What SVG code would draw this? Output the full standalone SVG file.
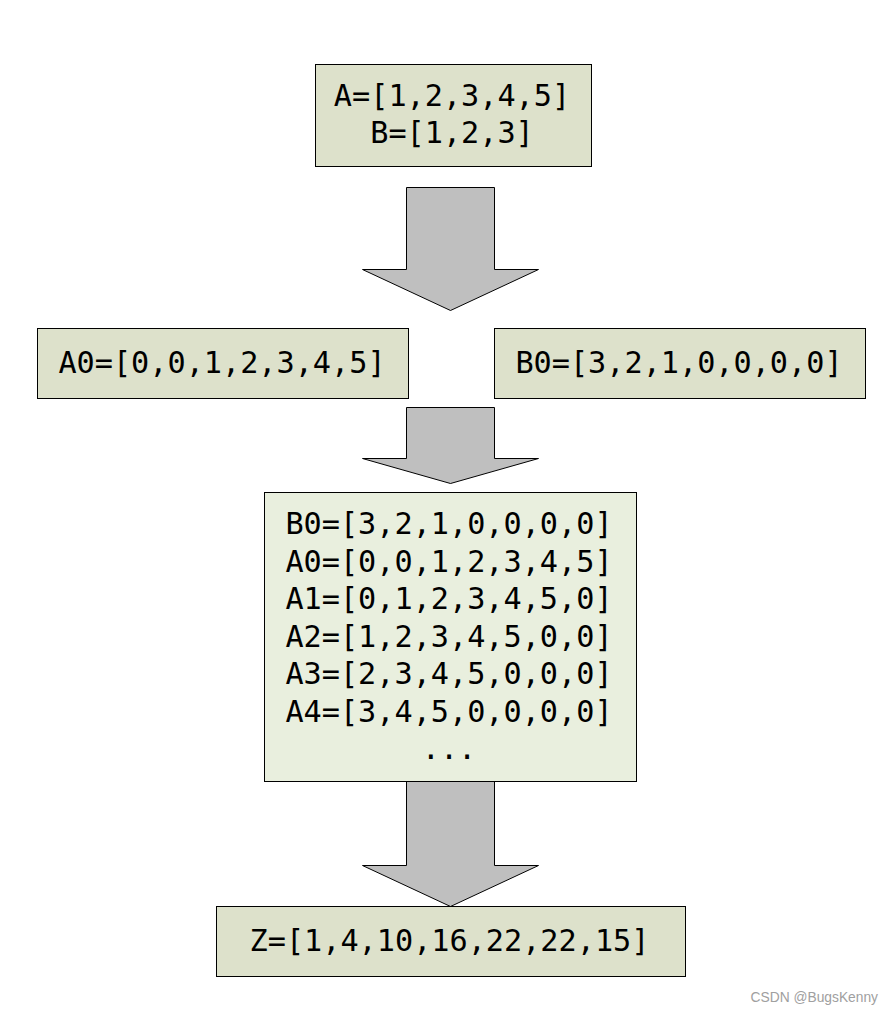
<svg xmlns="http://www.w3.org/2000/svg" width="894" height="1014" viewBox="0 0 894 1014">
<style>
.box{fill:#dde1cb;stroke:#000;stroke-width:1}
.box2{fill:#e9efde;stroke:#000;stroke-width:1}
.arr{fill:#bfbfbf;stroke:#000;stroke-width:1;stroke-linejoin:miter}
.t{font-family:"DejaVu Sans Mono",monospace;font-size:30.2px;fill:#000;text-anchor:middle}
.wm{font-family:"Liberation Sans",Arial,sans-serif;font-size:13.8px;fill:#a0a0a0;text-anchor:end}
</style>
<rect width="894" height="1014" fill="#fff"/>
<g id="connectors">
<polygon class="arr" points="406.5,187.5 494.5,187.5 494.5,269.5 538.5,269.5 450.5,310.5 362.5,269.5 406.5,269.5"/>
<polygon class="arr" points="406.5,407.5 494.5,407.5 494.5,458.5 538.5,458.5 450.5,483.5 362.5,458.5 406.5,458.5"/>
<polygon class="arr" points="406.5,781.5 494.5,781.5 494.5,865.5 538.5,865.5 450.5,906.5 362.5,865.5 406.5,865.5"/>
</g>
<g id="input">
<rect class="box" x="315.5" y="64.5" width="276" height="102"/>
<text class="t" x="452" y="106">A=[1,2,3,4,5]</text>
<text class="t" x="452" y="143">B=[1,2,3]</text>
</g>
<g id="a0">
<rect class="box" x="37.5" y="328.5" width="371" height="70"/>
<text class="t" x="222" y="373">A0=[0,0,1,2,3,4,5]</text>
</g>
<g id="b0">
<rect class="box" x="494.5" y="328.5" width="371" height="70"/>
<text class="t" x="679" y="373">B0=[3,2,1,0,0,0,0]</text>
</g>
<g id="shifts">
<rect class="box2" x="264.5" y="492.5" width="372" height="289"/>
<text class="t" x="449" y="534">B0=[3,2,1,0,0,0,0]</text>
<text class="t" x="449" y="571.5">A0=[0,0,1,2,3,4,5]</text>
<text class="t" x="449" y="609">A1=[0,1,2,3,4,5,0]</text>
<text class="t" x="449" y="646.5">A2=[1,2,3,4,5,0,0]</text>
<text class="t" x="449" y="684">A3=[2,3,4,5,0,0,0]</text>
<text class="t" x="449" y="721.5">A4=[3,4,5,0,0,0,0]</text>
<text class="t" x="449" y="759">...</text>
</g>
<g id="result">
<rect class="box" x="216.5" y="906.5" width="469" height="70"/>
<text class="t" x="449.5" y="951">Z=[1,4,10,16,22,22,15]</text>
</g>
<text class="wm" x="878" y="1002">CSDN @BugsKenny</text>
</svg>
